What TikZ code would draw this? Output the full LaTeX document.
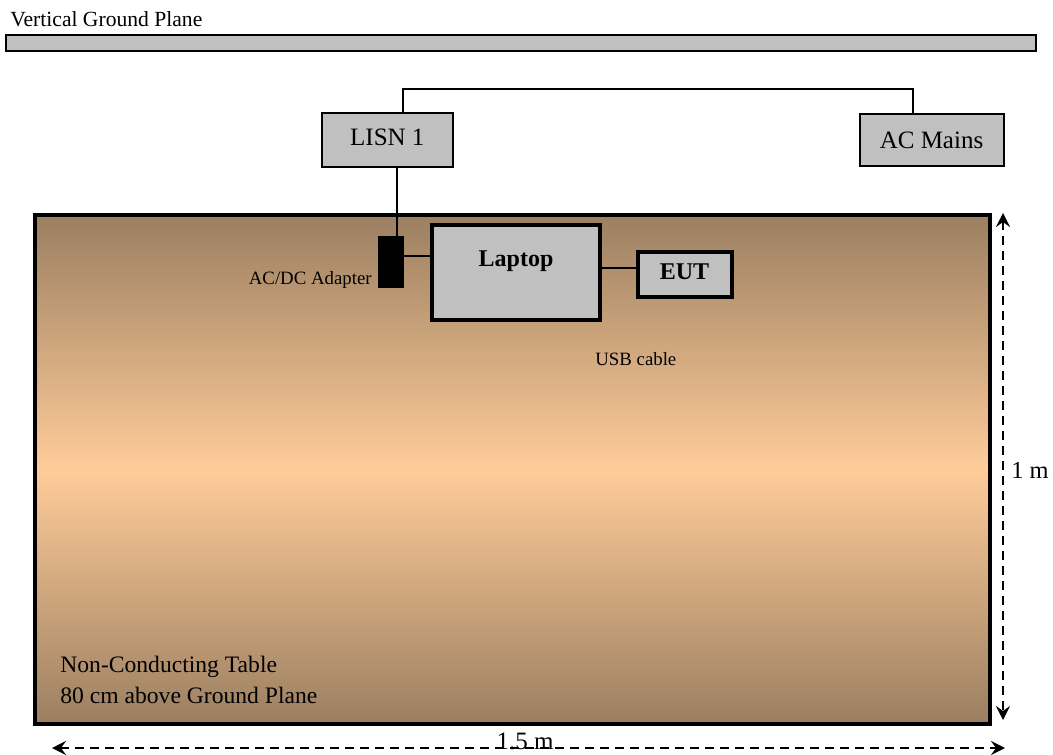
\documentclass[tikz,border=0pt]{standalone}
\usepackage{fontspec}
\setmainfont{Liberation Serif}
\usepackage{xcolor}
\definecolor{boxgray}{RGB}{192,192,192}
\definecolor{tabledark}{RGB}{155,127,97}
\definecolor{tablelight}{RGB}{255,204,153}
\usepackage{tikz}
\usetikzlibrary{arrows.meta, positioning, calc}
\tikzset{
  plane/.style={
    rectangle, draw=black, line width=1pt, fill=boxgray,
    minimum width=515pt, minimum height=7.7pt, inner sep=0pt, outer sep=0pt
  },
  equip/.style={
    rectangle, draw=black, line width=1pt, fill=boxgray,
    inner sep=0pt, outer sep=0pt, font=\fontsize{12.5}{15}\selectfont
  },
  unit/.style={
    rectangle, draw=black, line width=2pt, fill=boxgray,
    inner sep=0pt, outer sep=0pt, font=\fontsize{12}{14}\selectfont\bfseries
  },
  adapter/.style={
    rectangle, fill=black, minimum width=13pt, minimum height=26pt,
    inner sep=0pt, outer sep=0pt
  },
  desk/.style={
    rectangle, draw=black, line width=1.6pt,
    top color=tabledark, bottom color=tabledark, middle color=tablelight,
    minimum width=477.5pt, minimum height=254.5pt, inner sep=0pt, outer sep=0pt
  },
  lbl/.style={inner sep=0pt, font=\fontsize{9.4}{11}\selectfont},
  wire/.style={line width=1pt, color=black},
  thinwire/.style={line width=0.8pt, color=black},
  dimline/.style={
    line width=1pt, dash pattern=on 4.5pt off 3pt,
    {Stealth[length=7pt,width=7pt,inset=2.5pt]}-{Stealth[length=7pt,width=7pt,inset=2.5pt]}
  },
}

\begin{document}
\begin{tikzpicture}[x=0.5pt, y=-0.5pt]
  \useasboundingbox (0,0) rectangle (1053,754);

  \node (gplabel) [lbl, font=\fontsize{10.8}{13}\selectfont, anchor=base west] at (10,27) {Vertical Ground Plane};
  \node (gplane)  [plane] at (521,43) {};

  \node (table)   [desk] at (512.5,469.5) {};
  \node (tabletext) [lbl, font=\fontsize{11.8}{15.3}\selectfont, align=left, anchor=north west]
        at (60,656) {Non-Conducting Table\\80 cm above Ground Plane};

  \node (lisn)    [equip, minimum width=65.2pt, minimum height=27pt, text depth=3pt] at (387.3,140.2) {LISN 1};
  \node (mains)   [equip, minimum width=72pt, minimum height=26.2pt, right=203.5pt of lisn] {AC Mains};
  \node (laptop)  [unit, minimum width=84.3pt, minimum height=47.7pt, text height=8pt, text depth=13.5pt]
        at (516,272.4) {Laptop};
  \node (adapter) [adapter, left=14pt of laptop, yshift=5.2pt] {};
  \node (eut)     [unit, minimum width=47pt, minimum height=22.5pt, text depth=3.5pt,
        right=18.6pt of laptop, yshift=-1.2pt] {EUT};

  \node (adlabel)  [lbl, anchor=base east] at (372,284) {AC/DC Adapter};
  \node (usblabel) [lbl, anchor=base west] at (595,365) {USB cable};

  \draw [wire] ([xshift=8pt]lisn.north) -- ++(0,-24) -| ([xshift=-9.1pt]mains.north);
  \draw [wire] ([xshift=3pt]adapter.north) -- ([xshift=3pt]adapter.north |- lisn.south);
  \draw [thinwire] ([yshift=3pt]adapter.east) -- ([yshift=3pt]adapter.east -| laptop.west);
  \draw [thinwire] ([yshift=3.5pt]eut.west) -- ([yshift=3.5pt]eut.west -| laptop.east);

  \coordinate (htop) at (1003,213);
  \coordinate (hbot) at (1003,720);
  \draw [dimline] (htop) -- (hbot);
  \node (hlabel) [lbl, font=\fontsize{12.2}{14}\selectfont, anchor=base west] at (1011,478) {1 m};

  \coordinate (wleft)  at (52,748);
  \coordinate (wright) at (1005,748);
  \draw [dimline] (wleft) -- (wright);
  \node (wlabel) [lbl, font=\fontsize{12.5}{14}\selectfont, anchor=base] at (525,749) {1.5 m};
\end{tikzpicture}
\end{document}
